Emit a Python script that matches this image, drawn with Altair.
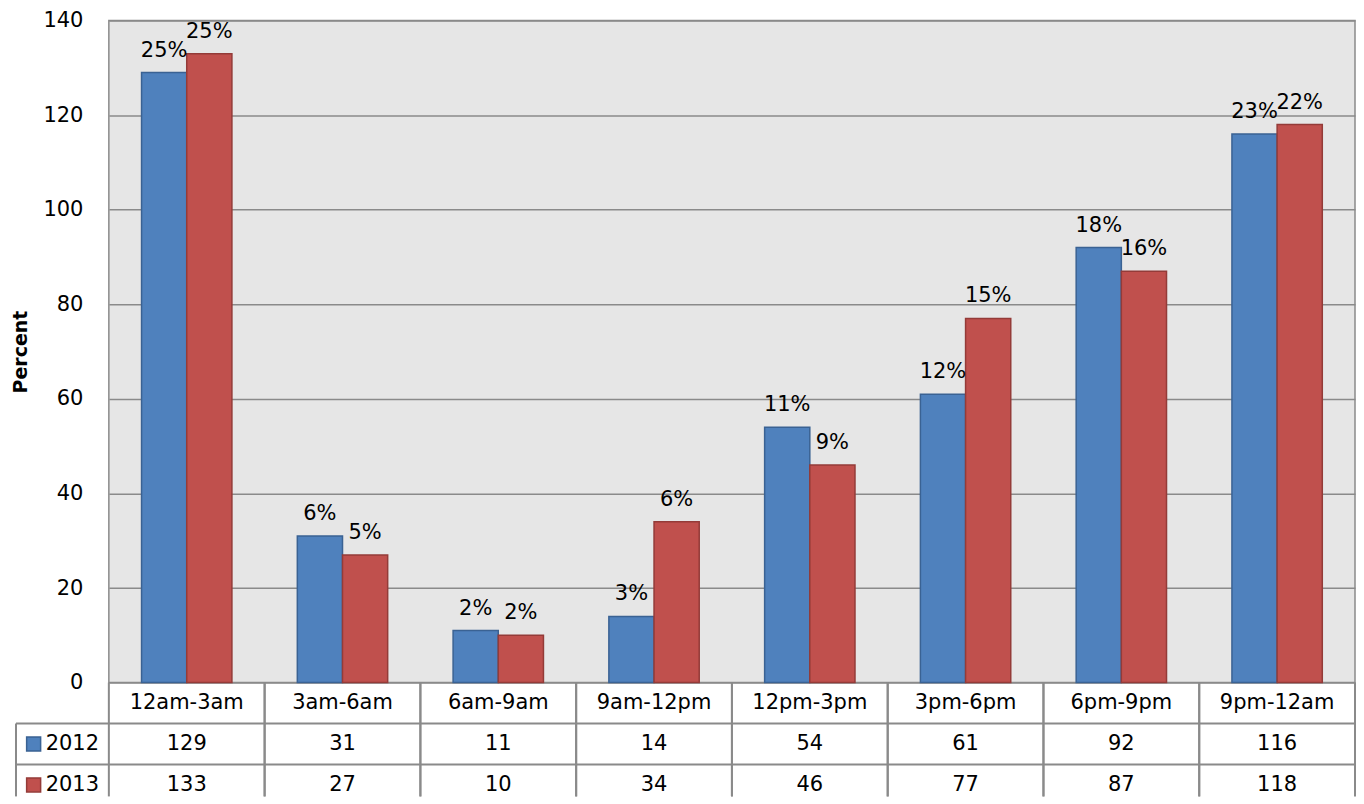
import altair as alt
import pandas as pd

# ---- data ----
cats = ["12am-3am", "3am-6am", "6am-9am", "9am-12pm", "12pm-3pm", "3pm-6pm", "6pm-9pm", "9pm-12am"]
years = ["2012", "2013"]
v2012 = [129, 31, 11, 14, 54, 61, 92, 116]
v2013 = [133, 27, 10, 34, 46, 77, 87, 118]
pct2012 = ["25%", "6%", "2%", "3%", "11%", "12%", "18%", "23%"]
pct2013 = ["25%", "5%", "2%", "6%", "9%", "15%", "16%", "22%"]
y_ticks = [0, 20, 40, 60, 80, 100, 120, 140]

FONT = "DejaVu Sans"
FS = 21
FILLS = ["#4F81BD", "#C0504D"]
STROKES = ["#3A6293", "#943B38"]
GRID = "#8A8A8A"
W, H = 1248, 663
TH = 114

rows = []
for c, a, b, pa, pb in zip(cats, v2012, v2013, pct2012, pct2013):
    rows.append({"cat": c, "year": "2012", "value": a, "label": pa})
    rows.append({"cat": c, "year": "2013", "value": b, "label": pb})
df = pd.DataFrame(rows)

color_scale = alt.Scale(domain=years, range=FILLS)
stroke_scale = alt.Scale(domain=years, range=STROKES)

xenc = alt.X("cat:N", sort=cats,
             scale=alt.Scale(domain=cats, paddingInner=0.42, paddingOuter=0.21),
             axis=None)
xoff = alt.XOffset("year:N", scale=alt.Scale(domain=years, paddingInner=0, paddingOuter=0))

yaxis = alt.Axis(values=y_ticks, grid=True, gridColor=GRID, gridWidth=1.5,
                 ticks=False, domain=False, labelFontSize=FS, labelFont=FONT,
                 labelColor="black", labelPadding=26, title="Percent",
                 titleFont=FONT, titleFontSize=19, titleFontWeight="bold",
                 titleColor="black", titlePadding=12)

bars = alt.Chart(df).mark_bar(strokeWidth=1.5).encode(
    x=xenc, xOffset=xoff,
    y=alt.Y("value:Q", scale=alt.Scale(domain=[0, 140], nice=False), axis=yaxis),
    color=alt.Color("year:N", scale=color_scale, legend=None),
    stroke=alt.Stroke("year:N", scale=stroke_scale, legend=None),
)
labels = alt.Chart(df).mark_text(fontSize=FS, font=FONT, color="black",
                                 baseline="alphabetic", dy=-16).encode(
    x=xenc, xOffset=xoff, y=alt.Y("value:Q"), text="label:N")

top = alt.layer(bars, labels).properties(
    width=W, height=H,
    view=alt.ViewBackground(fill="#E6E6E6", stroke=GRID, strokeWidth=1.5))

# ---- data table below ----
text_rows = [{"cat": c, "row": "hdr", "text": c} for c in cats]
for c, a, b in zip(cats, v2012, v2013):
    text_rows.append({"cat": c, "row": "2012", "text": str(a)})
    text_rows.append({"cat": c, "row": "2013", "text": str(b)})
tdf = pd.DataFrame(text_rows)
cat_df = pd.DataFrame({"cat": cats})
row_df = pd.DataFrame({"row": years})
leg_df = pd.DataFrame({"row": years, "col": ["legend", "legend"]})

yscale = alt.Scale(type="band", domain=["hdr", "2012", "2013"], range=[0, 123],
                   paddingInner=0, paddingOuter=0)
cscale = alt.Scale(type="band", domain=cats, paddingInner=0, paddingOuter=0)
lscale = alt.Scale(type="band", domain=["legend"], range=[-93, 0], paddingInner=0, paddingOuter=0)

t_text = alt.Chart(tdf).mark_text(fontSize=FS, font=FONT, color="black", baseline="middle").encode(
    x=alt.X("cat:N", scale=cscale, axis=None),
    y=alt.Y("row:N", scale=yscale, axis=None),
    text="text:N")
v_left = alt.Chart(cat_df).mark_rule(color=GRID, strokeWidth=2).encode(
    x=alt.X("cat:N", bandPosition=0, scale=cscale, axis=None),
    y=alt.value(0), y2=alt.value(TH))
v_right = alt.Chart(cat_df).mark_rule(color=GRID, strokeWidth=2).encode(
    x=alt.X("cat:N", bandPosition=1, scale=cscale, axis=None),
    y=alt.value(0), y2=alt.value(TH))
h_rules = alt.Chart(row_df).mark_rule(color=GRID, strokeWidth=2).encode(
    y=alt.Y("row:N", bandPosition=0, scale=yscale, axis=None),
    x=alt.value(-93), x2=alt.value(W))
leg_rule = alt.Chart(row_df.iloc[:1]).mark_rule(color=GRID, strokeWidth=2).encode(
    x=alt.X("row:N", bandPosition=0,
            scale=alt.Scale(type="band", domain=["2012"], range=[-93, 0], paddingInner=0, paddingOuter=0),
            axis=None),
    y=alt.Y("row:N", bandPosition=0, scale=yscale, axis=None),
    y2=alt.value(TH))
leg_sq = alt.Chart(leg_df).mark_square(size=196, strokeWidth=1.5, opacity=1).encode(
    x=alt.X("col:N", bandPosition=0.19, scale=lscale, axis=None),
    y=alt.Y("row:N", scale=yscale, axis=None),
    color=alt.Color("row:N", scale=color_scale, legend=None),
    stroke=alt.Stroke("row:N", scale=stroke_scale, legend=None))
leg_tx = alt.Chart(leg_df).mark_text(fontSize=FS, font=FONT, color="black",
                                     align="left", baseline="middle").encode(
    x=alt.X("col:N", bandPosition=0.32, scale=lscale, axis=None),
    y=alt.Y("row:N", scale=yscale, axis=None),
    text="row:N")

table = alt.layer(t_text, v_left, v_right, h_rules, leg_rule, leg_sq, leg_tx).resolve_scale(
    x="independent").properties(width=W, height=TH)

chart = alt.vconcat(top, table, spacing=0, bounds="flush").properties(
    padding={"left": 3, "top": 0, "right": 0, "bottom": 0}
).configure(font=FONT).configure_view(strokeWidth=0)

chart.save("out.html", embed_options={"renderer": "svg", "actions": False})
